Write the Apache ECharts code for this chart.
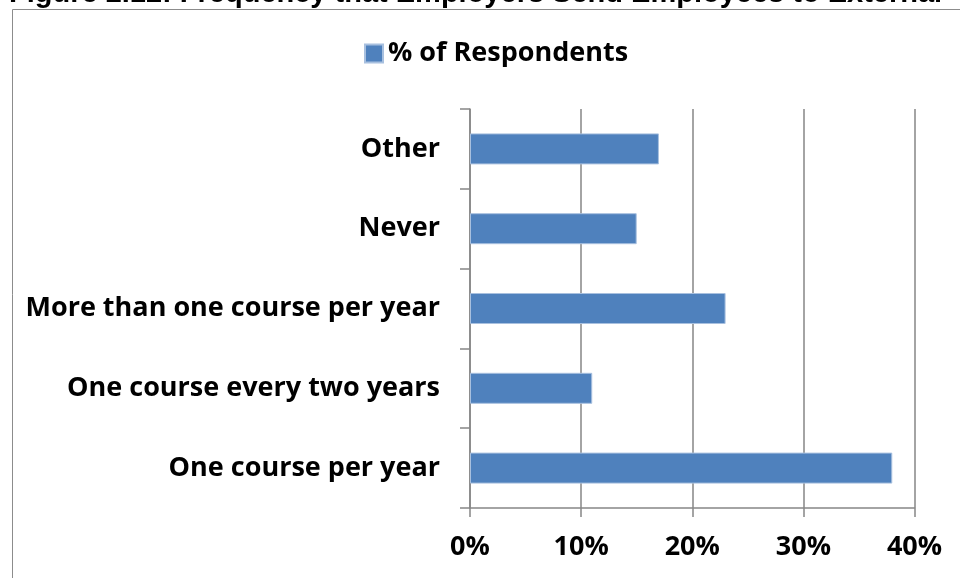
<!DOCTYPE html>
<html>
<head>
<meta charset="utf-8">
<script src="https://cdn.jsdelivr.net/npm/echarts@6/dist/echarts.min.js"></script>
<style>
html,body{margin:0;padding:0;background:#fff;}
#chart{width:960px;height:578px;}
</style>
</head>
<body>
<div id="chart"></div>
<script>
var categories = ["One course per year", "One course every two years", "More than one course per year", "Never", "Other"];
var values = [38, 11, 23, 15, 17];
var seriesName = "% of Respondents";
var xTicks = [0, 10, 20, 30, 40];
var titleText = "Figure 2.12: Frequency that Employers Send Employees to External";

var chart = echarts.init(document.getElementById('chart'));
var gray = '#868686';
var labelFont = '"Open Sans", sans-serif';
chart.setOption({
  animation: false,
  backgroundColor: '#fff',
  graphic: [
    {type: 'text', left: 9, top: -21, z: 10,
     style: {text: titleText, font: 'bold 29px "Liberation Sans", Arial, sans-serif', fill: '#000'}},
    {type: 'rect', shape: {x: 12.5, y: 9.5, width: 1200, height: 1200},
     style: {fill: 'none', stroke: '#8c8c8c', lineWidth: 1}, z: 0}
  ],
  legend: {
    data: [seriesName],
    left: 359, top: 35,
    icon: 'rect', itemWidth: 18, itemHeight: 18, itemGap: 9,
    textStyle: {fontFamily: labelFont, fontWeight: 'bold', fontSize: 27, color: '#000'}
  },
  grid: {left: 470, right: 45.5, top: 109, bottom: 70, containLabel: false},
  xAxis: {
    type: 'value', min: xTicks[0], max: xTicks[xTicks.length - 1], interval: 10,
    axisLine: {show: true, lineStyle: {color: gray, width: 1.5}},
    axisTick: {show: true, length: 9, lineStyle: {color: gray, width: 1.5}},
    splitLine: {show: true, lineStyle: {color: gray, width: 1.5}},
    axisLabel: {formatter: '{value}%', margin: 26, fontFamily: labelFont, fontWeight: 'bold', fontSize: 27, color: '#000'}
  },
  yAxis: {
    type: 'category', data: categories,
    axisLine: {show: true, lineStyle: {color: gray, width: 1.5}},
    axisTick: {show: true, length: 10, lineStyle: {color: gray, width: 1.5}},
    splitLine: {show: false},
    axisLabel: {margin: 30, fontFamily: labelFont, fontWeight: 'bold', fontSize: 27, color: '#000'}
  },
  series: [{
    name: seriesName, type: 'bar', data: values, barWidth: 31,
    itemStyle: {color: '#4F81BD', borderColor: '#a8c0df', borderWidth: 1}
  }]
});
</script>
</body>
</html>
